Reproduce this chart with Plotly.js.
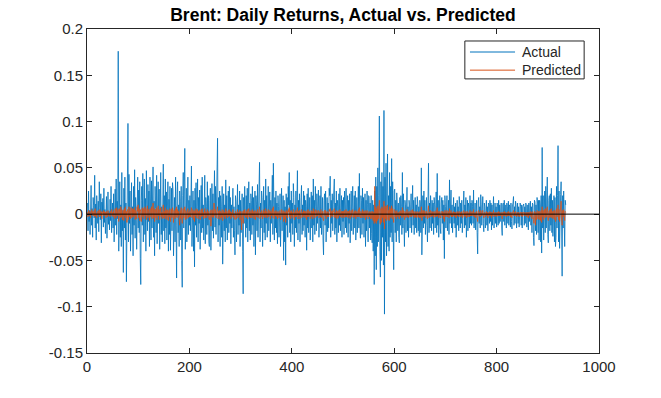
<!DOCTYPE html>
<html>
<head>
<meta charset="utf-8">
<script src="https://cdn.plot.ly/plotly-3.0.1.min.js"></script>
<style>html,body{margin:0;padding:0;background:#fff;}#chart{width:661px;height:398px;}</style>
</head>
<body>
<div id="chart"></div>
<script>
const actual = [
0.012,-0.018,0.025,-0.008,0.004,-0.022,0.015,0.031,-0.012,0.006,
-0.025,0.018,0.009,-0.004,0.042,-0.015,0.011,-0.028,0.020,0.003,
-0.010,0.014,-0.019,0.035,0.007,-0.006,0.022,-0.031,0.013,0.002,
0.017,-0.014,0.028,-0.009,0.005,-0.021,0.010,0.019,-0.026,0.008,
0.024,-0.011,0.003,-0.017,0.016,-0.007,0.030,-0.020,0.006,0.012,
-0.015,0.022,-0.030,0.009,0.027,-0.012,0.038,-0.022,0.014,-0.005,
0.176,-0.040,0.018,0.035,-0.025,0.010,-0.035,0.045,-0.018,0.004,
-0.063,0.028,-0.015,0.040,-0.028,0.012,-0.073,0.020,0.006,0.098,
-0.030,0.043,-0.010,0.025,-0.040,0.015,0.034,-0.022,0.008,-0.045,
0.030,-0.012,0.048,-0.026,0.018,0.005,-0.038,0.022,0.040,-0.015,
0.026,-0.020,0.035,-0.048,-0.076,0.015,0.030,-0.012,0.044,-0.030,
0.008,0.038,-0.022,0.017,-0.040,0.047,0.010,-0.018,0.032,-0.008,
0.025,-0.035,0.040,0.012,-0.028,0.036,-0.015,0.022,0.051,-0.025,
0.014,-0.045,0.030,0.006,-0.020,0.042,-0.032,0.018,0.035,-0.010,
0.027,-0.038,0.012,0.045,-0.022,0.008,-0.030,0.033,0.054,-0.018,
0.020,-0.032,0.038,-0.015,0.024,-0.028,0.010,0.035,-0.040,0.016,
-0.022,0.030,-0.039,0.012,0.028,-0.018,0.034,0.026,-0.045,0.008,
0.018,-0.030,0.040,-0.012,-0.069,0.022,0.035,-0.020,0.010,-0.035,
0.025,0.014,-0.028,0.030,-0.050,-0.079,0.020,0.045,-0.015,0.032,
0.071,-0.038,0.018,0.028,-0.030,0.010,0.040,-0.022,0.015,-0.012,
0.020,-0.018,0.030,0.052,-0.035,0.012,0.025,-0.040,0.015,-0.057,
0.028,-0.012,0.034,-0.025,0.008,0.038,-0.030,0.018,-0.010,0.026,
-0.038,0.015,0.031,-0.020,0.040,-0.015,0.010,-0.028,0.022,0.042,
-0.032,0.018,0.008,-0.022,0.035,-0.012,0.020,-0.030,-0.035,0.015,
0.028,-0.039,0.010,0.033,-0.018,0.022,-0.026,0.012,0.047,-0.014,
0.030,-0.022,0.015,0.040,0.082,-0.030,0.018,-0.012,0.025,-0.035,
0.020,0.008,-0.025,0.030,-0.054,0.015,0.022,-0.018,0.010,-0.030,
0.037,-0.015,0.020,-0.028,0.012,0.025,-0.020,0.030,-0.010,0.018,
-0.032,0.010,-0.015,0.022,0.028,-0.025,0.008,-0.018,-0.044,0.020,
0.014,-0.030,0.018,0.032,-0.022,0.010,-0.012,0.025,-0.035,0.015,
-0.020,0.012,0.022,-0.040,-0.086,0.018,-0.010,0.030,0.007,-0.025,
0.020,-0.015,0.028,-0.030,0.010,0.035,-0.018,0.012,-0.028,0.022,
0.015,-0.022,0.030,-0.012,0.018,-0.035,0.008,0.025,-0.044,0.020,
0.010,-0.018,0.032,-0.025,0.015,0.040,0.056,-0.030,0.012,-0.015,
0.025,0.018,-0.035,0.010,0.030,-0.020,0.015,-0.028,0.038,-0.010,
0.020,-0.025,0.012,0.030,-0.018,0.008,0.024,-0.030,0.015,-0.010,
0.028,0.042,-0.022,0.055,0.010,-0.028,0.018,-0.015,0.025,-0.020,
0.012,-0.032,0.020,0.008,-0.025,0.015,0.022,-0.035,0.010,0.028,
-0.018,0.012,0.020,-0.050,0.015,-0.030,0.008,-0.055,0.022,-0.012,
0.018,-0.025,0.030,0.010,0.045,-0.020,0.015,-0.030,0.025,-0.010,
0.012,-0.022,0.033,0.018,-0.035,0.010,-0.015,0.025,-0.020,0.030,
0.047,-0.028,0.015,-0.010,0.022,-0.030,0.012,0.018,0.031,-0.022,
0.010,-0.018,0.025,-0.012,0.020,-0.025,0.015,0.008,-0.039,0.022,
-0.015,0.028,-0.020,0.012,0.018,-0.028,0.010,0.024,-0.015,0.020,
-0.030,0.038,-0.012,0.015,-0.022,0.030,0.008,-0.018,0.022,-0.010,
0.015,0.026,-0.025,0.012,0.020,-0.015,0.030,-0.022,0.010,0.018,
-0.028,-0.044,0.015,0.022,-0.012,0.025,-0.030,0.010,0.018,-0.019,
0.012,-0.015,0.028,0.020,0.041,-0.025,0.015,-0.010,0.022,-0.018,
0.010,0.030,0.038,-0.022,0.012,-0.015,0.025,-0.030,0.015,0.008,
-0.020,0.022,-0.012,0.028,-0.018,0.010,0.020,-0.025,0.015,-0.008,
0.018,-0.022,0.025,0.010,-0.015,0.028,-0.020,0.012,0.020,-0.025,
0.015,-0.010,0.022,-0.031,0.010,0.025,-0.018,0.012,0.030,-0.022,
0.008,0.020,-0.015,0.025,-0.028,0.012,0.018,-0.020,0.010,0.030,
-0.015,0.044,-0.012,-0.026,0.020,0.015,-0.022,0.028,-0.010,0.018,
-0.025,0.012,0.022,-0.035,0.015,-0.018,0.025,0.010,-0.030,0.020,
0.019,-0.015,0.012,-0.028,0.020,-0.021,-0.031,0.015,-0.040,0.010,
-0.076,0.025,-0.045,0.040,-0.060,0.030,-0.035,0.050,-0.030,0.020,
0.106,-0.040,-0.068,0.035,-0.050,0.045,-0.025,0.030,-0.055,0.112,
-0.108,0.040,-0.030,0.055,-0.045,0.025,0.065,-0.035,0.020,-0.040,
0.045,-0.025,0.030,-0.020,0.060,-0.030,0.035,-0.015,-0.060,0.025,
0.027,-0.020,0.015,-0.030,0.023,0.010,-0.018,0.012,-0.025,-0.031,
0.018,-0.012,0.020,0.008,-0.022,0.045,-0.015,0.022,-0.010,-0.035,
0.015,0.010,-0.020,0.012,0.029,-0.018,0.008,-0.025,0.015,0.010,
-0.015,0.012,0.022,-0.020,0.008,0.031,-0.012,0.015,-0.022,0.010,
0.018,-0.015,0.010,-0.020,0.019,0.012,-0.018,0.008,-0.024,0.015,
0.010,-0.020,0.050,-0.044,0.012,0.020,-0.015,0.025,-0.010,0.015,
-0.022,0.010,0.018,-0.012,-0.030,0.015,0.055,-0.020,0.012,-0.015,
0.020,0.008,-0.018,0.015,-0.010,0.012,-0.022,0.018,0.010,-0.015,
0.012,0.024,-0.020,0.044,-0.012,0.015,-0.025,0.010,0.020,-0.015,
-0.021,0.012,0.018,-0.010,0.015,-0.028,0.010,-0.048,0.020,0.008,
-0.015,0.012,0.020,-0.018,0.010,0.015,-0.022,0.037,-0.010,0.012,
0.026,-0.015,0.010,-0.020,0.012,0.018,-0.010,0.008,-0.015,0.012,
-0.025,0.010,0.015,-0.012,0.008,-0.018,0.019,0.010,-0.015,0.012,
-0.010,0.015,-0.020,0.008,0.012,0.025,-0.015,0.010,-0.012,0.018,
-0.025,0.010,0.015,-0.018,0.012,0.008,-0.015,0.020,-0.010,0.012,
-0.012,0.015,0.008,-0.010,0.026,-0.015,0.010,0.012,-0.017,0.008,
0.015,-0.020,-0.043,0.012,0.018,-0.010,0.008,-0.015,0.021,0.010,
-0.012,0.008,0.019,-0.010,-0.019,0.012,0.008,-0.015,0.010,0.015,
-0.012,0.008,-0.018,0.012,0.010,-0.010,0.015,-0.008,0.012,-0.017,
0.010,-0.012,0.008,0.019,-0.015,0.010,0.012,-0.010,0.008,-0.014,
0.012,0.008,-0.012,0.015,-0.010,0.010,-0.008,0.010,0.012,-0.015,
-0.023,0.010,0.012,-0.008,0.015,-0.012,0.005,0.010,-0.015,0.012,
0.008,-0.010,0.014,-0.012,0.010,0.008,-0.014,0.012,-0.008,-0.016,
0.010,0.012,0.019,-0.012,0.008,-0.010,0.014,0.010,-0.015,0.008,
0.012,-0.010,0.008,-0.014,0.010,0.012,0.008,-0.012,0.010,-0.015,
0.008,0.010,0.011,-0.012,0.008,-0.010,0.012,0.010,-0.014,0.008,
0.010,-0.017,0.012,-0.008,0.010,0.014,-0.012,0.008,-0.020,0.012,
0.010,-0.025,-0.034,0.015,0.013,-0.018,0.010,-0.022,0.018,0.012,
-0.020,0.015,-0.028,0.015,0.010,-0.030,0.020,-0.042,0.072,-0.015,
0.020,-0.028,0.012,0.025,-0.020,0.030,-0.015,0.018,0.040,-0.022,
-0.031,0.015,0.020,-0.018,0.022,-0.012,0.028,-0.020,0.015,-0.024,
0.012,0.020,-0.030,0.018,-0.035,-0.025,0.030,-0.015,0.020,0.074,
-0.030,0.025,-0.037,0.015,0.021,0.035,-0.020,-0.067,0.020,-0.015,
0.025,-0.020,-0.035,0.015,0.010
];

const predicted = [
.002,-.003,.004,.001,-.002,.003,-.004,.002,.005,-.001,
.003,-.002,.001,.004,-.003,.006,-.002,.001,-.004,.003,
.002,-.001,.004,-.003,.005,.001,-.002,.003,-.005,.002,
.001,.004,-.002,.003,-.001,.002,-.004,.003,.001,-.003,
.004,.002,-.002,.001,-.003,.003,.001,.005,-.002,.002,
-.003,.004,.001,-.005,.006,.002,-.004,.007,-.002,.003,
.005,-.008,.006,.002,-.004,.008,-.003,.005,-.006,.002,
.004,-.007,.006,-.002,.008,-.004,.003,-.009,.005,.002,
-.006,.008,-.003,.004,-.005,.007,.002,-.004,.006,-.003,
.005,-.002,.007,-.006,.004,.001,-.005,.008,.003,.010,
-.004,.006,-.007,.003,.005,-.008,.002,.007,-.003,.006,
-.005,.004,.008,-.002,.006,-.006,.003,.009,-.004,.005,
.002,-.007,.006,.004,-.003,.008,-.005,.003,.012,-.004,
.006,-.008,.005,.002,-.004,.007,-.006,.003,.009,-.002,
.005,-.006,.004,.007,-.003,.002,-.005,.006,.010,-.004,
.003,-.005,.007,-.002,.004,-.006,.005,.002,-.007,.004,
-.003,.006,-.008,.002,.005,-.004,.007,.003,-.009,.004,
.002,-.005,.006,-.003,.008,-.004,.005,-.002,.003,-.006,
-.012,.004,-.005,.007,-.008,-.010,.003,.006,-.004,.005,
.008,-.006,.004,.002,-.005,.003,.006,-.004,.002,-.003,
.004,-.003,.005,.007,-.004,.002,.005,-.006,.003,-.008,
.004,-.002,.006,-.004,.002,.005,-.005,.003,-.002,.004,
-.006,.003,.005,-.003,.006,-.002,.002,-.005,.004,.006,
-.004,.003,.001,-.004,.005,-.002,.003,-.005,-.006,.002,
.004,-.013,.002,.005,-.003,.004,-.004,.012,.006,-.002,
.005,-.004,.003,.006,.008,-.005,.003,-.002,.004,-.006,
.003,.002,-.004,.005,-.007,.003,.004,-.003,.002,-.005,
.006,-.002,.003,-.004,.002,.004,-.003,.005,-.002,.003,
-.005,.002,-.003,.004,.005,-.004,.001,-.003,-.006,.003,
.002,-.005,.003,.005,-.004,.002,-.002,.004,-.006,.003,
-.004,-.017,.003,-.006,-.010,.004,-.002,.005,.002,-.004,
.003,-.003,.005,-.005,.002,.006,-.003,.002,-.004,.004,
.003,-.004,.005,-.002,.003,-.005,.002,.004,-.006,.003,
.002,-.003,.005,-.004,.003,.006,.008,-.005,.002,-.003,
.004,.003,-.005,.002,.005,-.003,.003,-.004,.006,-.002,
.003,-.004,.002,.005,-.003,.001,.004,-.005,.003,-.002,
.005,.006,-.004,.008,.002,-.005,.003,-.002,.004,-.003,
.002,-.005,.003,.001,-.004,.003,.004,-.006,.002,.005,
-.003,.002,.004,-.008,.003,-.005,.002,-.009,.004,-.002,
.003,-.004,.005,.002,.007,-.003,.003,-.005,.004,-.002,
.002,-.004,.005,.003,-.006,.002,-.003,.004,-.003,.005,
.007,-.005,.003,-.002,.004,-.005,.002,.003,.005,-.004,
.002,-.003,.004,-.002,.003,-.004,.003,.002,-.006,.004,
-.003,.005,-.003,.002,.003,-.005,.002,.004,-.003,.003,
-.005,.006,-.002,.003,-.004,.005,.002,-.003,.004,-.002,
.003,.004,-.004,.002,.003,-.003,.005,-.004,.002,.003,
-.005,-.007,.003,.004,-.002,.004,-.005,.002,.003,-.003,
.002,-.003,.005,.003,.006,-.004,.003,-.002,.004,-.003,
.002,.005,.006,-.004,.002,-.003,.004,-.005,.003,.001,
-.004,.004,-.002,.005,-.003,.002,.003,-.004,.003,-.002,
.003,-.004,.004,.002,-.003,.005,-.003,.002,.003,-.004,
.003,-.002,.004,-.005,.002,.004,-.003,.002,.005,-.004,
.001,.003,-.003,.004,-.005,.002,.003,-.003,.002,.005,
-.003,.007,-.002,-.004,.003,.002,-.004,.005,-.002,.003,
-.004,.002,.004,-.006,.003,-.003,.004,.002,-.005,.003,
.003,-.003,.002,-.005,.003,-.004,-.005,.003,-.007,.002,
-.010,.030,-.008,.008,-.010,.006,-.007,.009,-.005,.004,
.015,-.008,-.011,.006,-.009,.008,-.004,.006,-.009,.014,
-.016,.008,-.005,.009,-.007,.005,.010,-.006,.004,-.007,
.008,-.004,.006,-.003,.009,-.005,.006,-.003,-.009,.004,
.005,-.003,.003,-.005,.004,.002,-.003,.002,-.004,-.005,
.003,-.002,.004,.002,-.004,.007,-.003,.004,-.002,-.006,
.003,.002,-.004,.002,.005,-.003,.002,-.004,.003,.002,
-.003,.002,.004,-.003,.002,.005,-.002,.003,-.004,.002,
.003,-.003,.002,-.004,.003,.002,-.003,.002,-.004,.003,
.002,-.004,.008,-.007,.002,.004,-.003,.004,-.002,.003,
-.004,.002,.003,-.002,-.005,.003,.009,-.004,.002,-.003,
.004,.002,-.003,.003,-.002,.002,-.004,.003,.002,-.003,
.002,.004,-.003,.007,-.002,.003,-.004,.002,.003,-.003,
-.004,.002,.003,-.002,.003,-.005,.002,-.008,.004,.002,
-.003,.002,.004,-.003,.002,.003,-.004,.006,-.002,.002,
.004,-.003,.002,-.003,.002,.003,-.002,.002,-.003,.002,
-.004,.002,.003,-.002,.002,-.003,.003,.002,-.003,.002,
-.002,.003,-.004,.002,.002,.004,-.003,.002,-.002,.003,
-.004,.002,.003,-.003,.002,.002,-.003,.004,-.002,.002,
-.002,.003,.002,-.002,.005,-.003,.002,.002,-.004,.002,
.003,-.004,-.008,.002,.004,-.002,.002,-.003,.004,.002,
-.002,.002,.004,-.002,-.004,.002,.002,-.003,.002,.003,
-.002,.002,-.004,.002,.002,-.002,.003,-.002,.002,-.004,
.002,-.002,.002,.004,-.003,.002,.002,-.002,.002,-.003,
.002,.002,-.002,.003,-.002,.002,-.002,.002,.002,-.003,
-.005,.002,.002,-.002,.003,-.002,.001,.002,-.003,.002,
.002,-.002,.003,-.002,.002,.002,-.003,.002,-.002,-.004,
.002,.002,.004,-.002,.002,-.002,.003,.002,-.003,.002,
.002,-.002,.002,-.003,.002,.002,.002,-.002,.002,-.003,
.002,.002,.002,-.002,.002,-.002,.002,.002,-.003,.002,
.002,-.004,.002,-.002,.002,.003,-.003,.002,-.005,.003,
.002,-.006,-.010,.003,.003,-.012,.002,-.006,.004,.003,
-.005,.003,-.006,.003,.002,-.007,.004,-.009,.008,-.003,
.004,-.006,.003,.005,-.004,.006,-.003,.004,.008,-.005,
-.007,.003,.004,-.004,.005,-.003,.006,-.004,.003,-.005,
.003,.004,-.006,.004,-.008,-.006,.006,-.003,.004,.010,
-.006,.005,-.008,.004,.005,.014,-.004,-.012,.004,-.003,
.005,-.004,-.007,.003,.002
];

const xTickVals = [0, 200, 400, 600, 800, 1000];
const xTickText = ['0', '200', '400', '600', '800', '1000'];
const yTickVals = [-0.15, -0.1, -0.05, 0, 0.05, 0.1, 0.15, 0.2];
const yTickText = ['-0.15', '-0.1', '-0.05', '0', '0.05', '0.1', '0.15', '0.2'];
const seriesNames = ['Actual', 'Predicted'];
const seriesColors = ['#0072BD', '#D95319'];
const chartTitle = 'Brent: Daily Returns, Actual vs. Predicted';

const idxA = actual.map((_, i) => i + 1);
const idxP = predicted.map((_, i) => i + 1);

const FONT = 'Liberation Sans, Arial, sans-serif';
const axisCommon = {
  showline: true, mirror: 'ticks', linecolor: '#262626', linewidth: 1,
  ticks: 'inside', ticklen: 5, tickwidth: 1, tickcolor: '#262626',
  showgrid: false, zeroline: false,
  tickfont: {family: FONT, size: 15, color: '#262626'}
};

const data = [
  {x: idxA, y: actual, type: 'scatter', mode: 'lines', name: seriesNames[0],
   line: {color: seriesColors[0], width: 0.8}, showlegend: false},
  {x: idxP, y: predicted, type: 'scatter', mode: 'lines', name: seriesNames[1],
   line: {color: seriesColors[1], width: 0.8}, showlegend: false}
];

// legend box drawn in paper coordinates (MATLAB-style compact legend)
const lg = {x0: 0.738, x1: 0.971, y0: 0.846, y1: 0.963, lx0: 0.748, lx1: 0.836, tx: 0.846, rows: [0.929, 0.873]};
const shapes = [
  {type: 'line', xref: 'paper', x0: 0, x1: 1, yref: 'y', y0: 0, y1: 0,
   line: {color: '#000000', width: 1}, layer: 'above'},
  {type: 'rect', xref: 'paper', yref: 'paper', x0: lg.x0, x1: lg.x1, y0: lg.y0, y1: lg.y1,
   fillcolor: '#ffffff', line: {color: '#262626', width: 1}, layer: 'above'}
];
const annotations = [];
seriesNames.forEach((nm, i) => {
  shapes.push({type: 'line', xref: 'paper', yref: 'paper', x0: lg.lx0, x1: lg.lx1,
               y0: lg.rows[i], y1: lg.rows[i], line: {color: seriesColors[i], width: 1}, layer: 'above'});
  annotations.push({xref: 'paper', yref: 'paper', x: lg.tx, y: lg.rows[i], xanchor: 'left', yanchor: 'middle',
                    text: nm, showarrow: false, font: {family: FONT, size: 14, color: '#262626'}});
});

const layout = {
  width: 661, height: 398,
  margin: {l: 87, r: 62, t: 29, b: 45},
  paper_bgcolor: '#ffffff', plot_bgcolor: '#ffffff',
  title: {text: '<b>' + chartTitle + '</b>', x: 0.5, xref: 'paper', xanchor: 'center',
          y: 1 - 15/398, yref: 'container', yanchor: 'middle',
          font: {family: FONT, size: 17.5, color: '#000000'}},
  xaxis: Object.assign({}, axisCommon, {range: [0, 1000], tickvals: xTickVals, ticktext: xTickText}),
  yaxis: Object.assign({}, axisCommon, {range: [-0.15, 0.2], tickvals: yTickVals, ticktext: yTickText}),
  showlegend: false,
  shapes: shapes,
  annotations: annotations
};

Plotly.newPlot('chart', data, layout, {displayModeBar: false, staticPlot: true});
</script>
</body>
</html>
